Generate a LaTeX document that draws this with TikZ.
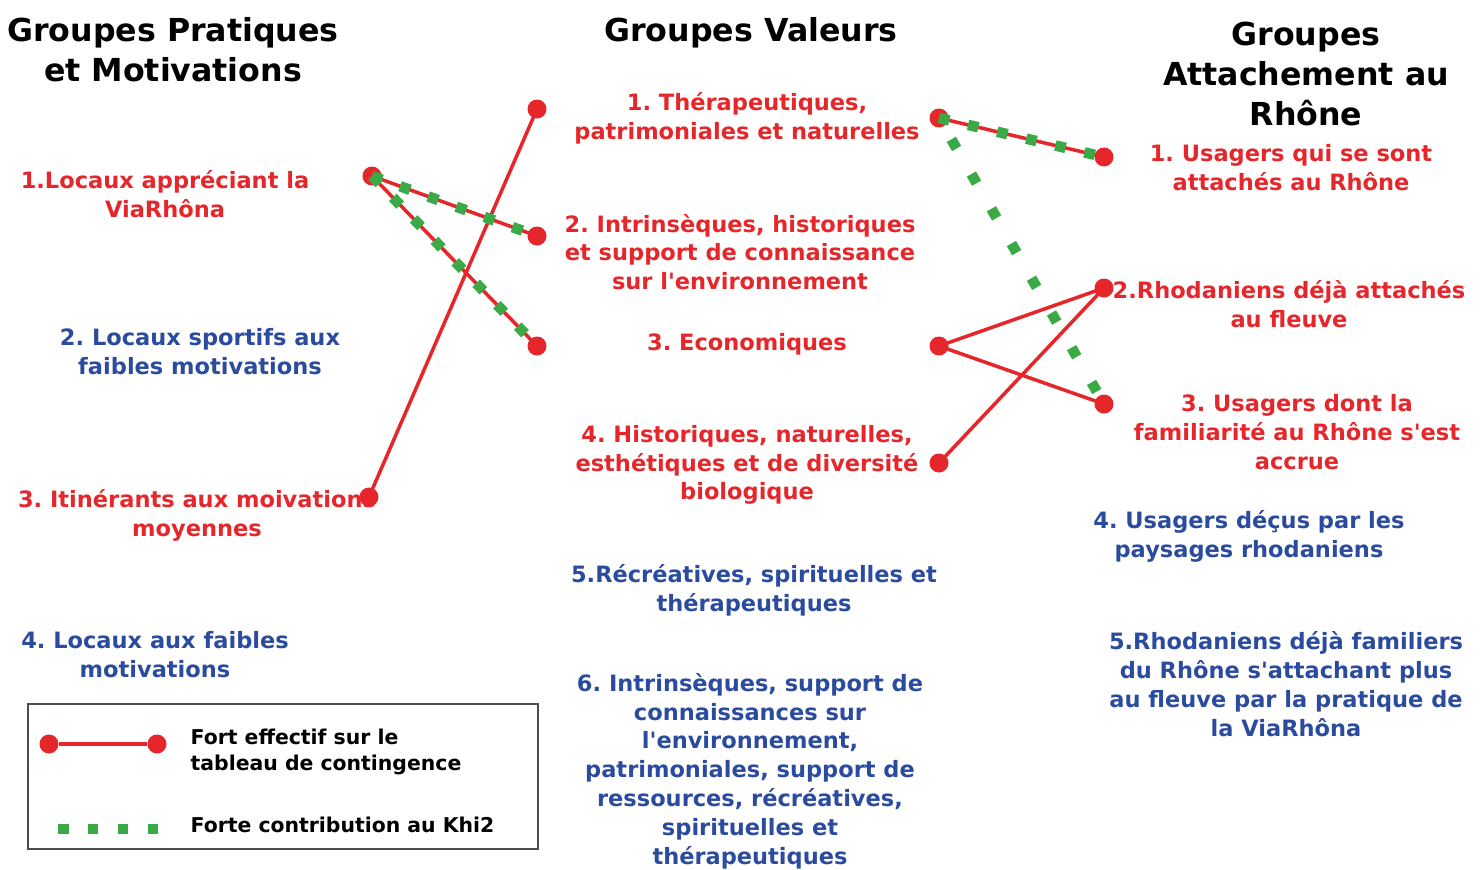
\documentclass[tikz,border=0pt]{standalone}
\usepackage{fontspec}
\setmainfont{DejaVu Sans}[Ligatures=TeXOff]
\usepackage[HTML]{xcolor}
\usetikzlibrary{positioning}
\frenchspacing

\definecolor{rouge}{HTML}{E5262A}
\definecolor{vert}{HTML}{3AAA47}
\definecolor{bleu}{HTML}{2B4C9E}

\tikzset{
  titre/.style={font=\bfseries\fontsize{9}{11.4}\selectfont, align=center, inner sep=0},
  lbl/.style={font=\bfseries\fontsize{6.4}{8.2}\selectfont, align=center, inner sep=0},
  rlbl/.style={lbl, text=rouge},
  blbl/.style={lbl, text=bleu},
  leg/.style={font=\bfseries\fontsize{5.8}{7.4}\selectfont, align=left, inner sep=0, anchor=west},
  pt/.style={circle, fill=rouge, minimum size=0.19cm, inner sep=0},
  fort/.style={rouge, line width=1pt},
  khi/.style={vert, line width=3pt, dash pattern=on 3pt off 5.5pt},
  khilong/.style={vert, line width=3pt, dash pattern=on 3pt off 8.4pt, dash phase=-7pt},
}

\begin{document}
\begin{tikzpicture}[x=0.01cm, y=-0.01cm]
\useasboundingbox (0,0) rectangle (1482,869);

% column titles
\node[titre] (tp) at (173,50) {Groupes Pratiques\\et Motivations};
\node[titre] (tv) at (751,33) {Groupes Valeurs};
\node[titre] (ta) at (1306,74) {Groupes\\Attachement au\\Rhône};

% practice groups
\node[rlbl] (pr1) at (165,194) {1.Locaux appréciant la\\ViaRhôna};
\node[blbl] (pr2) at (200,352) {2. Locaux sportifs aux\\faibles motivations};
\node[rlbl] (pr3) at (197,515) {3. Itinérants aux moivations\\moyennes};
\node[blbl] (pr4) at (155,655) {4. Locaux aux faibles\\motivations};

% value groups
\node[rlbl] (va1) at (747,118) {1. Thérapeutiques,\\patrimoniales et naturelles};
\node[rlbl] (va2) at (740,252) {2. Intrinsèques, historiques\\et support de connaissance\\sur l'environnement};
\node[rlbl] (va3) at (747,344) {3. Economiques};
\node[rlbl] (va4) at (747,465) {4. Historiques, naturelles,\\esthétiques et de diversité\\biologique};
\node[blbl] (va5) at (754,590) {5.Récréatives, spirituelles et\\thérapeutiques};
\node[blbl] (va6) at (750,771) {6. Intrinsèques, support de\\connaissances sur\\l'environnement,\\patrimoniales, support de\\ressources, récréatives,\\spirituelles et\\thérapeutiques};

% attachment groups
\node[rlbl] (at1) at (1291,168) {1. Usagers qui se sont\\attachés au Rhône};
\node[rlbl] (at2) at (1289,304) {2.Rhodaniens déjà attachés\\au fleuve};
\node[rlbl] (at3) at (1297,432) {3. Usagers dont la\\familiarité au Rhône s'est\\accrue};
\node[blbl] (at4) at (1249,536) {4. Usagers déçus par les\\paysages rhodaniens};
\node[blbl] (at5) at (1286,684) {5.Rhodaniens déjà familiers\\du Rhône s'attachant plus\\au fleuve par la pratique de\\la ViaRhôna};

% end points
\node[pt] (p1) at (372,176) {};
\node[pt] (p3) at (369,497) {};
\node[pt] (v1l) at (537,109) {};
\node[pt] (v2l) at (537,236) {};
\node[pt] (v3l) at (537,346) {};
\node[pt] (v1r) at (939,118) {};
\node[pt] (v3r) at (939,346) {};
\node[pt] (v4r) at (939,463) {};
\node[pt] (a1) at (1104,157) {};
\node[pt] (a2) at (1104,288) {};
\node[pt] (a3) at (1104,404) {};

% strong counts
\draw[fort] (p1.center) -- (v2l.center);
\draw[fort] (p1.center) -- (v3l.center);
\draw[fort] (p3.center) -- (v1l.center);
\draw[fort] (v1r.center) -- (a1.center);
\draw[fort] (v3r.center) -- (a2.center);
\draw[fort] (v3r.center) -- (a3.center);
\draw[fort] (v4r.center) -- (a2.center);

% strong chi2 contributions
\draw[khi] (p1.center) -- (v2l.center);
\draw[khi] (p1.center) -- (v3l.center);
\draw[khi] (v1r.center) -- (a1.center);
\draw[khilong] (v1r.center) -- (a3.center);

% legend
\draw[black!70, line width=0.8pt] (28,704) rectangle (538,849);
\node[pt] (lg1) at (49,744) {};
\node[pt] (lg2) at (157,744) {};
\draw[fort] (lg1) -- (lg2);
\node[leg] (lgf) at (190,752) {Fort effectif sur le\\tableau de contingence};
\coordinate (lk1) at (58,829);
\coordinate (lk2) at (158,829);
\draw[khi] (lk1) -- (lk2);
\node[leg] (lgk) at (190,825) {Forte contribution au Khi2};
\end{tikzpicture}
\end{document}
